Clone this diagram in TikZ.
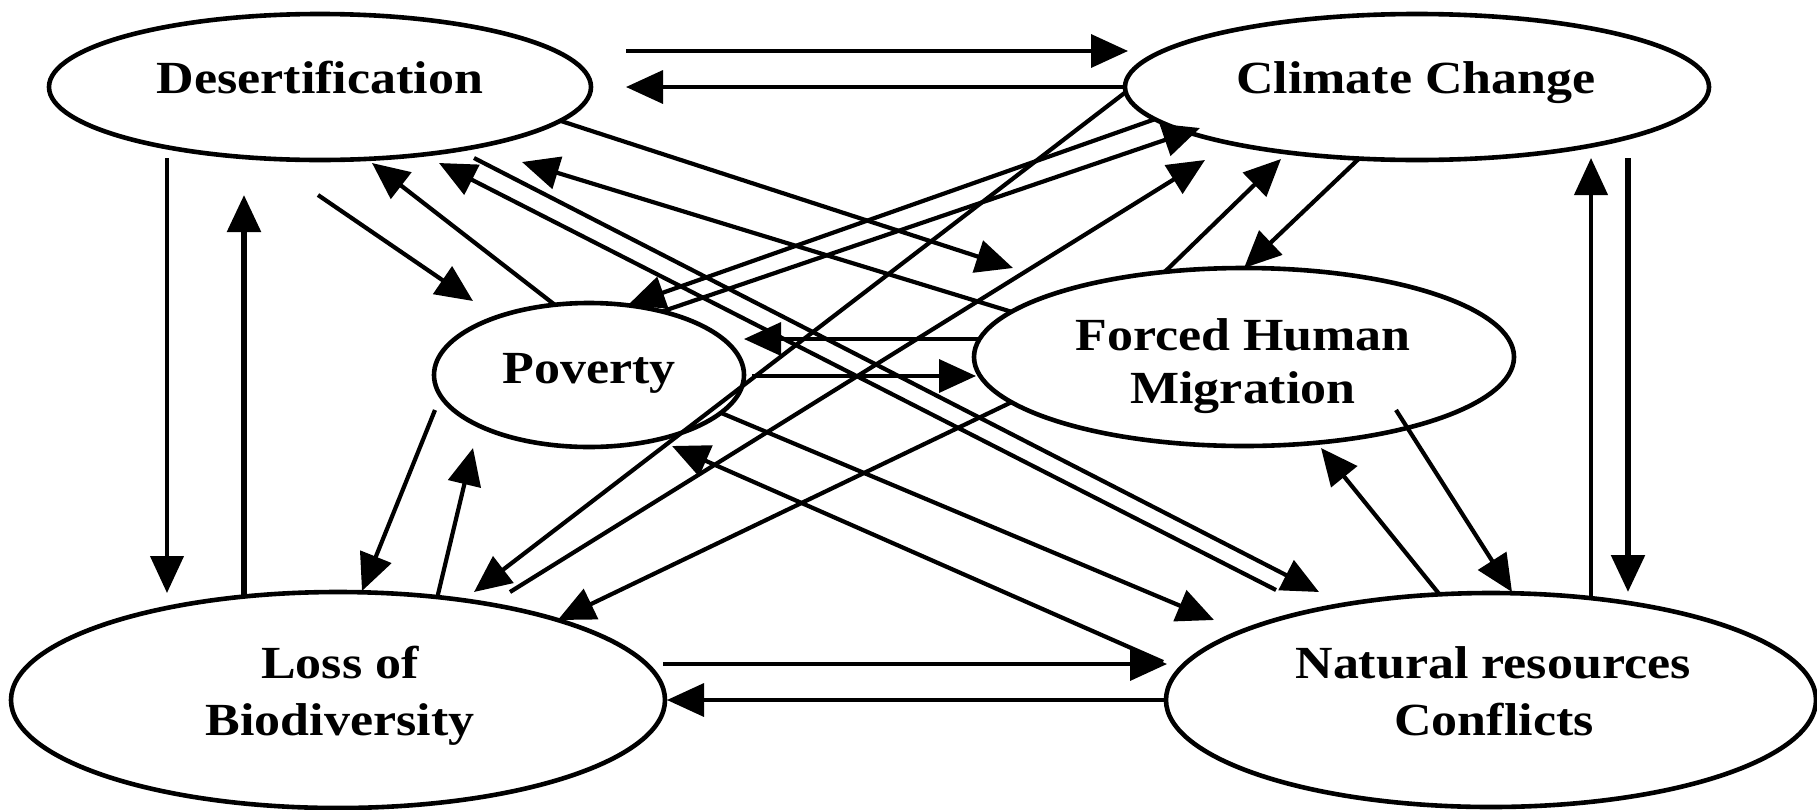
\documentclass[tikz,border=0pt]{standalone}
\usepackage{fontspec}
\usepackage{graphicx}
\setmainfont{Liberation Serif}
\usetikzlibrary{arrows.meta,shapes.geometric}
\newcommand{\wtxt}[1]{\scalebox{1.13}[1]{#1}}
\begin{document}
\begin{tikzpicture}[x=1pt,y=-1pt,
  blob/.style={ellipse, draw, line width=4.6pt, inner sep=0pt, outer sep=0pt},
  lbl/.style={font=\fontsize{46}{54}\selectfont\bfseries, anchor=base, inner sep=0pt},
  conn/.style={-{Triangle[length=37pt,width=33pt]}, line width=4.2pt},
  cthin/.style={line width=3.6pt},
  cthick/.style={line width=5.6pt}]
\useasboundingbox (0,0) rectangle (1817,809);

% ellipses
\node[blob, minimum width=542pt, minimum height=146pt] (des) at (320,87) {};
\node[blob, minimum width=584pt, minimum height=146pt] (cc) at (1417,87) {};
\node[blob, minimum width=310pt, minimum height=144pt] (pov) at (589,375) {};
\node[blob, minimum width=540pt, minimum height=178pt] (fhm) at (1244,357) {};
\node[blob, minimum width=654pt, minimum height=216pt] (loss) at (338,700) {};
\node[blob, minimum width=650pt, minimum height=214pt] (nr) at (1491,700) {};

% texts
\node[lbl] (destx) at (320,93) {\wtxt{Desertification}};
\node[lbl] (cctx) at (1416,93) {\wtxt{Climate Change}};
\node[lbl] (povtx) at (589,383) {\wtxt{Poverty}};
\node[lbl] (fhmtxa) at (1243,350) {\wtxt{Forced Human}};
\node[lbl] (fhmtxb) at (1243,403) {\wtxt{Migration}};
\node[lbl] (losstxa) at (340,678) {\wtxt{Loss of}};
\node[lbl] (losstxb) at (340,735) {\wtxt{Biodiversity}};
\node[lbl] (nrtxa) at (1493,678) {\wtxt{Natural resources}};
\node[lbl] (nrtxb) at (1494,735) {\wtxt{Conflicts}};

% free ends
\coordinate (a1s) at (626,51);   \coordinate (a1e) at (1128,51);
\coordinate (a2e) at (626,87);
\coordinate (a3s) at (167,158);  \coordinate (a3e) at (167,593);
\coordinate (a4s) at (244,597);  \coordinate (a4e) at (244,195);
\coordinate (a5s) at (1591,597); \coordinate (a5e) at (1591,158);
\coordinate (a6s) at (1628,158); \coordinate (a6e) at (1628,592);
\coordinate (a7s) at (663,664);  \coordinate (a7e) at (1167,664);
\coordinate (a8e) at (667,700);
\coordinate (a9s) at (752,376);  \coordinate (a9e) at (976,376);
\coordinate (a10s) at (979,339); \coordinate (a10e) at (744,339);
\coordinate (a11s) at (318,195); \coordinate (a11e) at (473,301);
\coordinate (a12e) at (372,163);
\coordinate (a13s) at (435,410); \coordinate (a13e) at (362,591);
\coordinate (a14e) at (473,448);
\coordinate (a16e) at (1281,159);
\coordinate (a17s) at (1396,410); \coordinate (a17e) at (1512,592);
\coordinate (a18e) at (1321,448);
\coordinate (a19e) at (1013,268);
\coordinate (a20e) at (522,162);
\coordinate (a21s) at (1276,590); \coordinate (a21e) at (439,163);
\coordinate (a22s) at (474,158);  \coordinate (a22e) at (1319,592);
\coordinate (a23e) at (628,305);
\coordinate (a24e) at (1200,128);
\coordinate (a25e) at (474,592);
\coordinate (a26s) at (510,592);  \coordinate (a26e) at (1205,160);
\coordinate (a28e) at (1214,620);
\coordinate (a29s) at (1163,662); \coordinate (a29e) at (672,446);

% connectors
\draw[conn, cthin] (a1s) -- (a1e);
\draw[conn, cthin] (cc.west) -- (a2e);
\draw[conn] (a3s) -- (a3e);
\draw[conn, cthick] (a4s) -- (a4e);
\draw[conn] (a5s) -- (a5e);
\draw[conn, cthick] (a6s) -- (a6e);
\draw[conn, cthin] (a7s) -- (a7e);
\draw[conn, cthin] (nr.west) -- (a8e);
\draw[conn, cthin] (a9s) -- (a9e);
\draw[conn, cthin] (a10s) -- (a10e);
\draw[conn] (a11s) -- (a11e);
\draw[conn] (pov.116.6) -- (a12e);
\draw[conn] (a13s) -- (a13e);
\draw[conn] (loss.46) -- (a14e);
\draw[conn] (cc.-129.5) -- (fhm.north);
\draw[conn] (fhm.133) -- (a16e);
\draw[conn] (a17s) -- (a17e);
\draw[conn] (nr.116.9) -- (a18e);
\draw[conn] (des.-8.4) -- (a19e);
\draw[conn] (fhm.169.4) -- (a20e);
\draw[conn] (a21s) -- (a21e);
\draw[conn] (a22s) -- (a22e);
\draw[conn] (cc.187.8) -- (a23e);
\draw[conn] (pov.41) -- (a24e);
\draw[conn] (cc.181) -- (a25e);
\draw[conn] (a26s) -- (a26e);
\draw[conn] (fhm.191.9) -- (loss.20.5);
\draw[conn] (pov.-16.6) -- (a28e);
\draw[conn] (a29s) -- (a29e);
\end{tikzpicture}
\end{document}
